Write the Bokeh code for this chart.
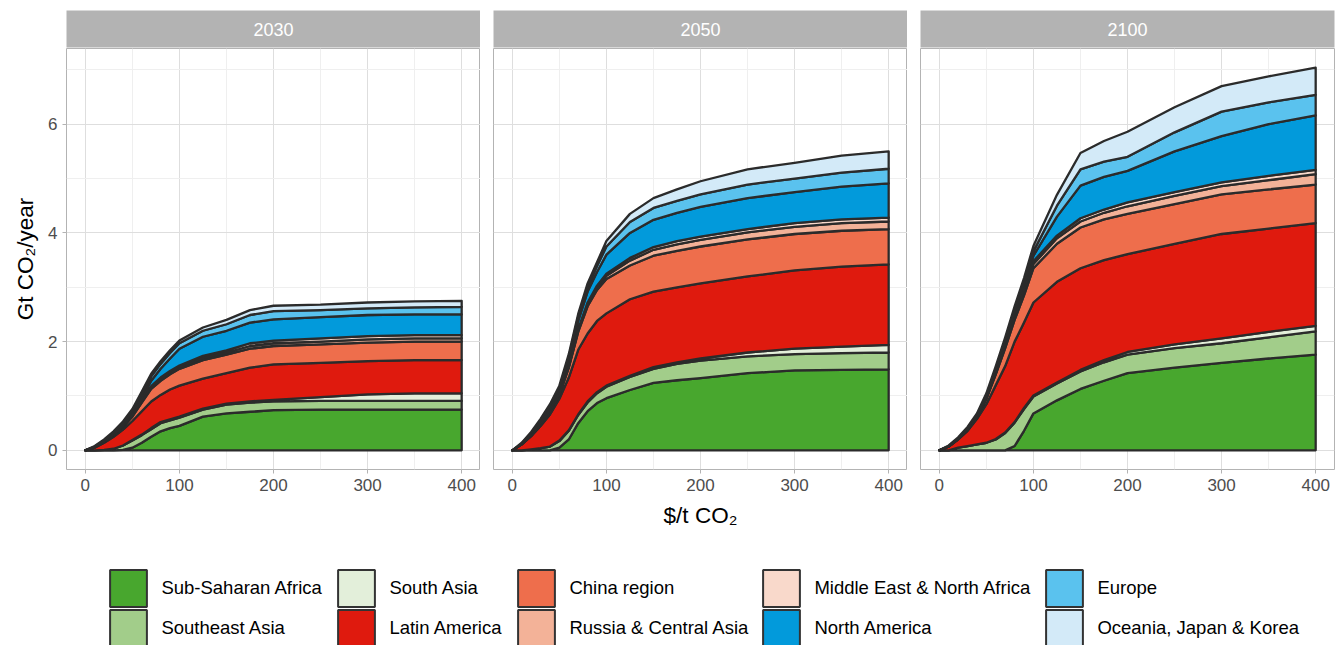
import numpy as np
from bokeh.plotting import figure
from bokeh.layouts import row, column
from bokeh.models import FixedTicker, Legend, LegendItem, Range1d, Label
from bokeh.embed import file_html
from bokeh.resources import INLINE

# ---------------- data ----------------
price = [0, 10, 20, 30, 40, 50, 60, 70, 80, 90, 100, 125, 150, 175, 200, 250, 300, 350, 400]
years = ["2030", "2050", "2100"]
regions = ["Sub-Saharan Africa", "Southeast Asia", "South Asia", "Latin America",
           "China region", "Russia & Central Asia", "Middle East & North Africa",
           "North America", "Europe", "Oceania, Japan & Korea"]
colors = ["#48A72E", "#A2CD8A", "#E3EFDA", "#DF1A0E", "#EE6E4C",
          "#F3B298", "#F9D9CB", "#029ADB", "#5AC2EE", "#D3EAF8"]

ssa_2030 = [0, 0, 0, 0, 0.01, 0.05, 0.14, 0.25, 0.35, 0.41, 0.45, 0.62, 0.68, 0.71, 0.74, 0.75, 0.75, 0.75, 0.75]
sea_2030 = [0, 0, 0.01, 0.03, 0.08, 0.13, 0.14, 0.14, 0.15, 0.14, 0.15, 0.13, 0.16, 0.17, 0.16, 0.16, 0.16, 0.16, 0.16]
sa_2030 = [0, 0, 0, 0, 0, 0.01, 0.01, 0.02, 0.02, 0.02, 0.02, 0.02, 0.02, 0.02, 0.03, 0.07, 0.12, 0.14, 0.14]
la_2030 = [0, 0.05, 0.13, 0.22, 0.29, 0.35, 0.43, 0.49, 0.50, 0.55, 0.57, 0.55, 0.56, 0.62, 0.65, 0.63, 0.61, 0.61, 0.61]
china_2030 = [0, 0.01, 0.02, 0.03, 0.05, 0.08, 0.16, 0.23, 0.26, 0.28, 0.31, 0.34, 0.34, 0.35, 0.34, 0.34, 0.34, 0.34, 0.34]
russia_2030 = [0, 0, 0, 0.01, 0.01, 0.02, 0.02, 0.03, 0.03, 0.03, 0.03, 0.04, 0.04, 0.05, 0.05, 0.05, 0.06, 0.06, 0.06]
mena_2030 = [0, 0, 0, 0, 0.01, 0.01, 0.02, 0.02, 0.03, 0.03, 0.03, 0.04, 0.04, 0.05, 0.05, 0.06, 0.06, 0.06, 0.06]
na_2030 = [0, 0, 0, 0, 0.01, 0.02, 0.04, 0.10, 0.16, 0.23, 0.31, 0.35, 0.36, 0.38, 0.39, 0.39, 0.39, 0.38, 0.38]
eur_2030 = [0, 0.01, 0.02, 0.03, 0.04, 0.05, 0.07, 0.08, 0.09, 0.10, 0.10, 0.11, 0.12, 0.14, 0.15, 0.13, 0.12, 0.13, 0.14]
oce_2030 = [0, 0.01, 0.02, 0.03, 0.03, 0.04, 0.05, 0.05, 0.05, 0.05, 0.05, 0.06, 0.08, 0.09, 0.10, 0.10, 0.11, 0.11, 0.11]

ssa_2050 = [0, 0, 0, 0, 0, 0.05, 0.20, 0.50, 0.72, 0.87, 0.96, 1.11, 1.24, 1.29, 1.33, 1.42, 1.47, 1.48, 1.49]
sea_2050 = [0, 0, 0.02, 0.04, 0.07, 0.12, 0.16, 0.15, 0.16, 0.18, 0.21, 0.24, 0.26, 0.30, 0.32, 0.31, 0.30, 0.31, 0.31]
sa_2050 = [0, 0, 0, 0, 0, 0.01, 0.01, 0.01, 0.02, 0.02, 0.02, 0.02, 0.03, 0.03, 0.04, 0.07, 0.10, 0.12, 0.14]
la_2050 = [0, 0.11, 0.24, 0.41, 0.59, 0.77, 0.97, 1.19, 1.25, 1.31, 1.33, 1.41, 1.39, 1.38, 1.38, 1.40, 1.44, 1.47, 1.48]
china_2050 = [0, 0, 0.01, 0.02, 0.05, 0.07, 0.18, 0.33, 0.50, 0.57, 0.63, 0.62, 0.66, 0.67, 0.68, 0.68, 0.67, 0.66, 0.65]
russia_2050 = [0, 0, 0, 0, 0.01, 0.01, 0.02, 0.03, 0.04, 0.05, 0.06, 0.09, 0.11, 0.12, 0.12, 0.13, 0.13, 0.14, 0.14]
mena_2050 = [0, 0, 0, 0, 0, 0.01, 0.01, 0.02, 0.03, 0.03, 0.04, 0.05, 0.05, 0.06, 0.06, 0.06, 0.07, 0.07, 0.07]
na_2050 = [0, 0.01, 0.02, 0.03, 0.04, 0.06, 0.10, 0.15, 0.20, 0.25, 0.35, 0.46, 0.50, 0.52, 0.55, 0.57, 0.57, 0.60, 0.63]
eur_2050 = [0, 0.01, 0.03, 0.05, 0.06, 0.05, 0.07, 0.08, 0.09, 0.11, 0.15, 0.20, 0.22, 0.22, 0.23, 0.25, 0.25, 0.26, 0.27]
oce_2050 = [0, 0.01, 0.02, 0.03, 0.03, 0.04, 0.05, 0.05, 0.06, 0.07, 0.10, 0.15, 0.18, 0.21, 0.24, 0.28, 0.29, 0.31, 0.32]

ssa_2100 = [0, 0, 0, 0, 0, 0, 0, 0, 0.08, 0.36, 0.68, 0.92, 1.13, 1.28, 1.42, 1.52, 1.61, 1.69, 1.76]
sea_2100 = [0, 0, 0.05, 0.08, 0.11, 0.14, 0.20, 0.32, 0.43, 0.40, 0.31, 0.31, 0.32, 0.34, 0.34, 0.36, 0.36, 0.39, 0.43]
sa_2100 = [0, 0, 0, 0, 0, 0, 0.01, 0.01, 0.01, 0.02, 0.02, 0.02, 0.03, 0.04, 0.05, 0.07, 0.09, 0.10, 0.10]
la_2100 = [0, 0.07, 0.15, 0.28, 0.47, 0.71, 0.99, 1.22, 1.48, 1.57, 1.71, 1.85, 1.87, 1.84, 1.80, 1.85, 1.92, 1.90, 1.89]
china_2100 = [0, 0, 0.01, 0.02, 0.03, 0.10, 0.20, 0.33, 0.40, 0.50, 0.63, 0.70, 0.75, 0.75, 0.74, 0.73, 0.73, 0.72, 0.71]
russia_2100 = [0, 0, 0, 0, 0, 0.01, 0.02, 0.03, 0.04, 0.06, 0.08, 0.10, 0.11, 0.12, 0.14, 0.15, 0.15, 0.17, 0.19]
mena_2100 = [0, 0, 0, 0, 0, 0, 0.01, 0.02, 0.02, 0.03, 0.05, 0.05, 0.06, 0.06, 0.07, 0.07, 0.07, 0.08, 0.08]
na_2100 = [0, 0, 0, 0, 0, 0, 0.01, 0.02, 0.03, 0.05, 0.10, 0.35, 0.60, 0.60, 0.58, 0.75, 0.85, 0.95, 1.00]
eur_2100 = [0, 0.01, 0.01, 0.02, 0.03, 0.04, 0.05, 0.06, 0.07, 0.08, 0.08, 0.20, 0.30, 0.28, 0.26, 0.35, 0.45, 0.40, 0.38]
oce_2100 = [0, 0.01, 0.02, 0.03, 0.04, 0.05, 0.06, 0.07, 0.09, 0.10, 0.10, 0.20, 0.30, 0.38, 0.46, 0.46, 0.47, 0.48, 0.50]

x_ticks = [0, 100, 200, 300, 400]
x_minor = [50, 150, 250, 350]
y_ticks = [0, 2, 4, 6]
y_minor = [1, 3, 5, 7]

series = {
    "2030": [ssa_2030, sea_2030, sa_2030, la_2030, china_2030, russia_2030, mena_2030, na_2030, eur_2030, oce_2030],
    "2050": [ssa_2050, sea_2050, sa_2050, la_2050, china_2050, russia_2050, mena_2050, na_2050, eur_2050, oce_2050],
    "2100": [ssa_2100, sea_2100, sa_2100, la_2100, china_2100, russia_2100, mena_2100, na_2100, eur_2100, oce_2100],
}

FONT = "Liberation Sans"
EDGE = "#2B2B2B"
FRAME_W, FRAME_H = 414, 421
borders = [(66, 0), (13, 0), (13, 7)]


def make_strip(year, left, right):
    s = figure(frame_width=FRAME_W, frame_height=37, min_border_left=left, min_border_right=right,
               min_border_top=10, min_border_bottom=1, x_range=Range1d(0, 1), y_range=Range1d(0, 1),
               x_axis_location=None, y_axis_location=None, toolbar_location=None,
               output_backend="svg", background_fill_color="#B3B3B3", outline_line_color=None)
    s.grid.visible = False
    s.add_layout(Label(x=0.5, y=0.5, text=year, text_align="center", text_baseline="middle",
                       text_color="white", text_font=FONT, text_font_size="18px"))
    return s


def make_panel(year, left, right, first, xlabel):
    p = figure(frame_width=FRAME_W, frame_height=FRAME_H, min_border_left=left, min_border_right=right,
               min_border_top=0, min_border_bottom=70, x_range=Range1d(-20, 420),
               y_range=Range1d(-0.352, 7.392), y_axis_location="left" if first else None,
               toolbar_location=None, output_backend="svg", background_fill_color="white",
               border_fill_color="white", outline_line_color="#B3B3B3", outline_line_width=1)
    lower = np.zeros(len(price))
    for name, col, vals in zip(regions, colors, series[year]):
        upper = lower + np.array(vals, dtype=float)
        xs = list(price) + list(price[::-1])
        ys = list(upper) + list(lower[::-1])
        p.patch(xs, ys, fill_color=col, line_color=EDGE, line_width=2.3, line_join="round")
        lower = upper

    p.xgrid.ticker = FixedTicker(ticks=x_ticks, minor_ticks=x_minor)
    p.ygrid.ticker = FixedTicker(ticks=y_ticks, minor_ticks=y_minor)
    p.grid.grid_line_color = "#DEDEDE"
    p.grid.grid_line_width = 1
    p.grid.minor_grid_line_color = "#EFEFEF"
    p.grid.minor_grid_line_width = 1

    axes = [p.xaxis[0]] + ([p.yaxis[0]] if first else [])
    p.xaxis.ticker = FixedTicker(ticks=x_ticks)
    if first:
        p.yaxis.ticker = FixedTicker(ticks=y_ticks)
        p.yaxis.axis_label = "Gt CO\u2082/year"
        p.yaxis.axis_label_standoff = 7
    if xlabel:
        p.xaxis.axis_label = "$/t CO\u2082"
        p.xaxis.axis_label_standoff = 9
    for ax in axes:
        ax.axis_line_color = None
        ax.major_tick_line_color = "#B3B3B3"
        ax.major_tick_in = 0
        ax.major_tick_out = 4
        ax.minor_tick_line_color = None
        ax.major_label_standoff = 5
        ax.major_label_text_font = FONT
        ax.major_label_text_font_size = "17px"
        ax.major_label_text_color = "#4D4D4D"
        ax.axis_label_text_font = FONT
        ax.axis_label_text_font_size = "22.5px"
        ax.axis_label_text_font_style = "normal"
        ax.axis_label_text_color = "black"
    return p


cols = []
for i, year in enumerate(years):
    left, right = borders[i]
    strip = make_strip(year, left, right)
    panel = make_panel(year, left, right, first=(i == 0), xlabel=(i == 1))
    cols.append(column(strip, panel, spacing=0))

# ---------------- legend (proxy glyphs kept outside the visible range) ----------------
lg = figure(width=1341, height=106, min_border=0, x_range=Range1d(0, 1), y_range=Range1d(0, 1),
            x_axis_location=None, y_axis_location=None, toolbar_location=None,
            output_backend="svg", outline_line_color=None)
lg.grid.visible = False
col_left = [105.4, 333.4, 513.4, 758.4, 1041.4]
row_bottom = [33.6, -6.4]
for i, (name, col) in enumerate(zip(regions, colors)):
    r = lg.quad(left=[5], right=[6], bottom=[5], top=[6], fill_color=col,
                line_color="#333333", line_width=2)
    leg = Legend(items=[LegendItem(label=name, renderers=[r])],
                 location=(col_left[i // 2], row_bottom[i % 2]),
                 glyph_width=46, glyph_height=46, label_standoff=10, padding=0, margin=0,
                 border_line_color=None, background_fill_alpha=0,
                 label_text_font=FONT, label_text_font_size="18.5px", label_text_color="black")
    lg.add_layout(leg, "center")

layout = column(row(*cols, spacing=0), lg, spacing=0)
open("out.html", "w").write(file_html(layout, INLINE))
